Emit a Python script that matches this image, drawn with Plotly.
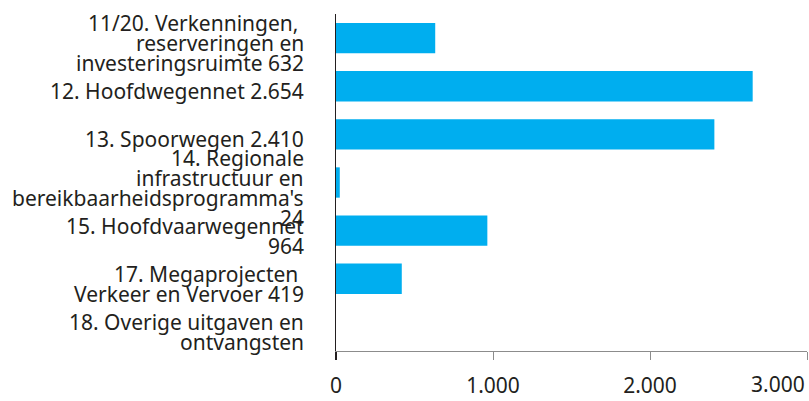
import plotly.graph_objects as go

categories = [
    "11/20. Verkenningen, \nreserveringen en\ninvesteringsruimte 632",
    "12. Hoofdwegennet 2.654",
    "13. Spoorwegen 2.410",
    "14. Regionale\ninfrastructuur en\nbereikbaarheidsprogramma's\n24",
    "15. Hoofdvaarwegennet\n964",
    "17. Megaprojecten \nVerkeer en Vervoer 419",
    "18. Overige uitgaven en\nontvangsten",
]
values = [632, 2654, 2410, 24, 964, 419, 0]
tick_vals = [0, 1000, 2000, 3000]
tick_text = ["0", "1.000", "2.000", "3.000"]

FONT = "Noto Sans, Open Sans, sans-serif"
TXT = "#231f20"
FS = 21
LINE = 20

fig = go.Figure()
fig.add_trace(go.Bar(
    x=values, y=list(range(len(categories))), orientation="h",
    marker=dict(color="#00aeef", line=dict(width=0)),
    hoverinfo="skip",
))

annotations = []
for i, cat in enumerate(categories):
    lines = cat.split("\n")
    n = len(lines)
    for j, ln in enumerate(lines):
        off = (j - (n - 1) / 2) * LINE + 5
        annotations.append(dict(
            xref="paper", x=0, yref="y", y=i,
            text=ln.replace(" ", "\u00a0") if ln.endswith(" ") else ln,
            showarrow=False, xanchor="right", yanchor="middle",
            xshift=-30, yshift=-off,
            font=dict(family=FONT, size=FS, color=TXT),
        ))
# last x tick label kept inside the chart
annotations.append(dict(
    xref="x", x=tick_vals[-1], yref="paper", y=0,
    text=tick_text[-1], showarrow=False, xanchor="right", yanchor="middle",
    xshift=0, yshift=-32.5,
    font=dict(family=FONT, size=FS, color=TXT),
))

fig.update_layout(
    width=809, height=401,
    margin=dict(l=336, r=2, t=14, b=40),
    paper_bgcolor="white", plot_bgcolor="white",
    showlegend=False, bargap=0.37,
    annotations=annotations,
    font=dict(family=FONT, size=FS, color=TXT),
)
fig.update_xaxes(
    range=[0, 3000], tickvals=tick_vals,
    ticktext=tick_text[:-1] + [""],
    showgrid=False, zeroline=False,
    showline=True, linecolor="#8c8c8c", linewidth=1,
    ticks="outside", ticklen=8, tickcolor="#8c8c8c", tickwidth=1,
    ticklabelstandoff=8,
    tickfont=dict(family=FONT, size=FS, color=TXT),
)
fig.update_yaxes(
    range=[len(categories) - 0.5, -0.5],
    showticklabels=False, showgrid=False, zeroline=False,
    showline=True, linecolor="#231f20", linewidth=1.5, ticks="",
)
# dark tick at the origin, continuing the category axis line
fig.update_layout(xaxis2=dict(
    overlaying="x", side="bottom", range=[0, 3000], tickvals=[tick_vals[0]],
    ticks="outside", ticklen=8, tickcolor="#231f20", tickwidth=1.5,
    showticklabels=False, showgrid=False, zeroline=False, showline=False,
))
fig.add_trace(go.Scatter(x=[], y=[], xaxis="x2", showlegend=False))

fig.write_html(
    "out.html",
    config={"displayModeBar": False, "staticPlot": True},
    post_script="document.body.style.margin='0';",
)
